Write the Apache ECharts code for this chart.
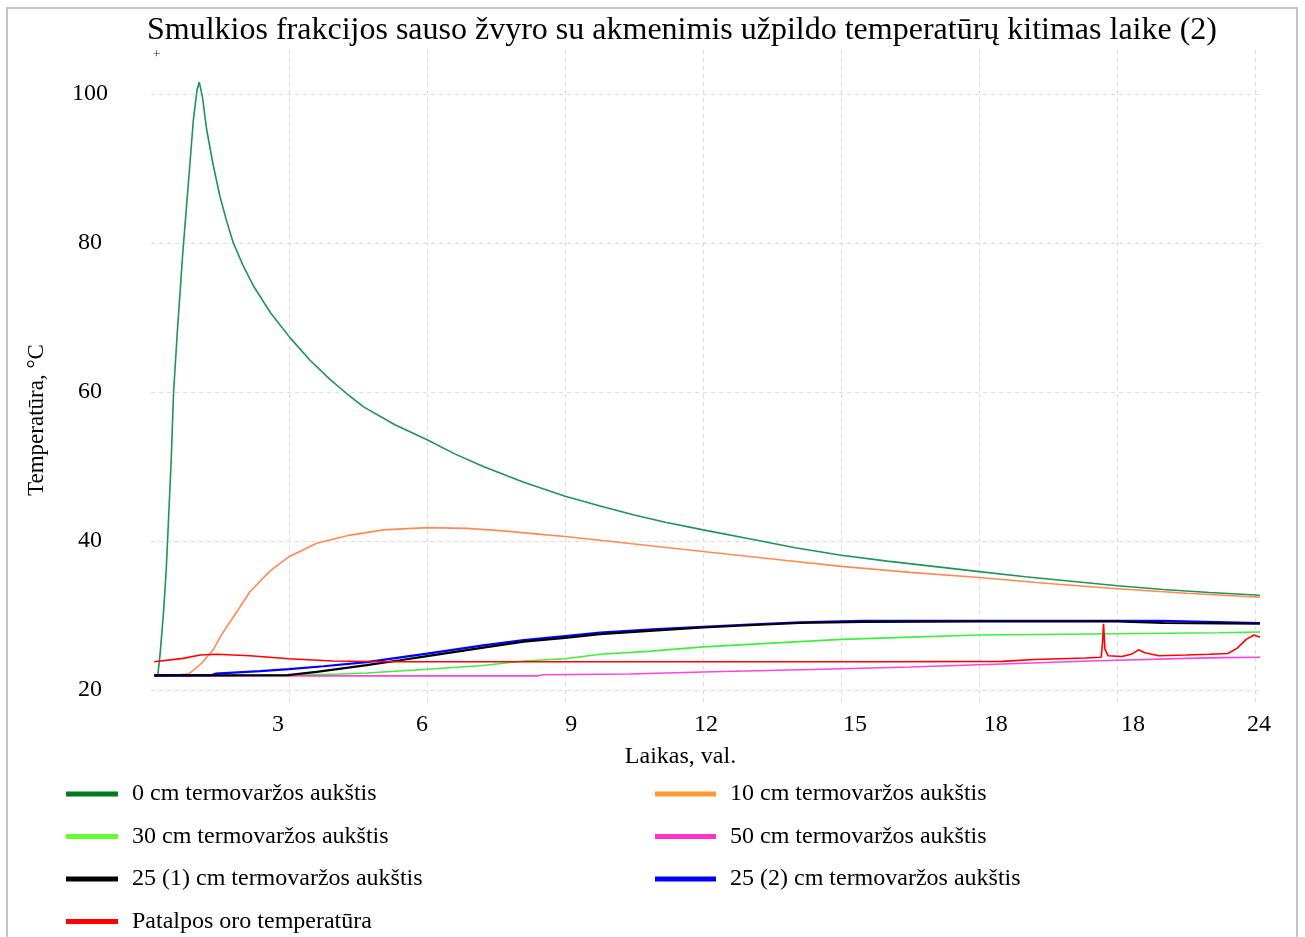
<!DOCTYPE html>
<html>
<head>
<meta charset="utf-8">
<script src="https://cdn.jsdelivr.net/npm/echarts@6/dist/echarts.min.js"></script>
<style>
html,body{margin:0;padding:0;background:#fff;}
#chart{width:1305px;height:937px;}
</style>
</head>
<body>
<div id="chart"></div>
<script>
// ---- data (time in hours, temperature in °C) ----
var seriesNames = [
  '0 cm termovaržos aukštis',
  '10 cm termovaržos aukštis',
  '30 cm termovaržos aukštis',
  '50 cm termovaržos aukštis',
  '25 (1) cm termovaržos aukštis',
  '25 (2) cm termovaržos aukštis',
  'Patalpos oro temperatūra'
];
var xGridValues = [3, 6, 9, 12, 15, 18, 21, 24];
// tick labels as printed in the original, and where (in hours) each one sits
var xTickLabels = ['3', '6', '9', '12', '15', '18', '18', '24'];
var xTickLabelAt = [2.76, 5.89, 9.13, 12.06, 15.3, 18.36, 21.34, 24.08];
var yTickValues = [20, 40, 60, 80, 100];

var t0cm = [[0.07,22.0],[0.15,22.1],[0.2,25],[0.27,30.3],[0.33,36],[0.38,42.8],[0.44,51],[0.49,59.9],[0.57,67.9],[0.69,78.6],[0.83,89.4],[0.92,96.5],[1.0,100.5],[1.05,101.6],[1.12,99.5],[1.21,95.2],[1.35,90.5],[1.5,86.2],[1.65,82.8],[1.79,80.0],[2.0,77.0],[2.22,74.3],[2.6,70.6],[3.02,67.3],[3.45,64.3],[3.89,61.7],[4.25,59.8],[4.62,58.0],[5.3,55.6],[6.0,53.6],[6.6,51.7],[7.22,50.0],[8.1,47.9],[9.0,46.0],[9.76,44.7],[10.5,43.5],[11.2,42.5],[12.0,41.5],[13.0,40.3],[14.0,39.1],[15.0,38.1],[16.0,37.3],[17.0,36.6],[18.0,35.9],[19.0,35.2],[20.0,34.6],[21.0,34.0],[22.0,33.5],[23.0,33.1],[24.0,32.75],[24.1,32.7]];
var t10cm = [[0.07,22.0],[0.5,22.0],[0.83,22.2],[1.1,23.6],[1.35,25.4],[1.55,27.6],[1.79,29.8],[2.15,33.2],[2.59,36.0],[3.0,37.9],[3.6,39.7],[4.33,40.8],[5.05,41.5],[6.0,41.8],[6.86,41.7],[7.59,41.4],[8.3,41.0],[9.0,40.6],[9.76,40.1],[10.5,39.6],[12.0,38.6],[13.5,37.6],[15.0,36.6],[16.5,35.8],[18.0,35.1],[19.5,34.3],[21.0,33.6],[22.5,33.0],[24.0,32.5],[24.1,32.45]];
var t30cm = [[0.07,22.0],[3.0,22.0],[4.1,22.15],[4.69,22.3],[6.0,22.8],[7.22,23.3],[8.1,23.9],[9.0,24.2],[9.76,24.8],[10.8,25.2],[12.0,25.8],[13.5,26.3],[15.0,26.8],[16.5,27.1],[18.0,27.4],[19.86,27.5],[21.5,27.6],[23.2,27.7],[24.1,27.8]];
var t50cm = [[0.07,21.9],[8.4,21.9],[8.5,22.05],[10.4,22.15],[12.2,22.45],[14.6,22.8],[16.5,23.1],[18.5,23.5],[20.4,23.9],[22.5,24.25],[23.3,24.35],[24.1,24.4]];
var t25a = [[0.07,21.95],[2.97,22.0],[3.6,22.45],[4.69,23.35],[5.41,24.0],[6.0,24.55],[7.22,25.7],[8.1,26.5],[9.0,27.0],[9.76,27.5],[11.0,28.0],[12.0,28.4],[13.0,28.7],[14.1,29.0],[15.45,29.15],[18.0,29.2],[21.0,29.2],[22.0,29.0],[23.3,28.95],[24.1,28.9]];
var t25b = [[0.07,22.0],[1.3,22.0],[1.4,22.2],[2.37,22.55],[3.0,22.8],[3.75,23.2],[4.69,23.75],[6.0,24.9],[7.22,26.0],[8.1,26.7],[9.0,27.25],[9.76,27.7],[11.0,28.2],[12.0,28.5],[13.0,28.8],[14.1,29.1],[15.45,29.3],[18.0,29.3],[20.0,29.3],[21.97,29.3],[22.0,29.05],[24.1,29.0]];
var tRoom = [[0.07,23.8],[0.7,24.25],[1.07,24.7],[1.43,24.8],[2.15,24.6],[3.0,24.2],[3.96,23.9],[5.05,23.8],[8.0,23.8],[12.0,23.8],[16.0,23.8],[18.5,23.85],[19.2,24.1],[20.3,24.3],[20.65,24.4],[20.68,26.5],[20.7,28.9],[20.73,25.5],[20.8,24.6],[21.1,24.5],[21.3,24.8],[21.46,25.4],[21.6,25.0],[21.9,24.6],[22.5,24.7],[23.0,24.8],[23.4,24.9],[23.6,25.6],[23.8,26.8],[23.97,27.4],[24.1,27.1]];

var seriesData = [t0cm, t10cm, t30cm, t50cm, t25a, t25b, tRoom];
var lineColors = ['#1f9455', '#ff8a55', '#3cf03c', '#ff44dd', '#000000', '#0000ff', '#ff0000'];
var legendColors = ['#007a1a', '#ff9933', '#66ff33', '#ff33cc', '#000000', '#0000ff', '#ff0000'];
var lineWidths = [1.6, 1.6, 1.6, 1.6, 2.2, 2.2, 1.6];
var drawOrder = [0, 1, 2, 3, 5, 4, 6];

var FONT = 'Liberation Serif';

function legendItems(idxs) {
  return idxs.map(function (i) {
    return { name: seriesNames[i], icon: 'rect', itemStyle: { color: legendColors[i], borderWidth: 0 } };
  });
}

function xLabelFor(v) {
  var best = -1, bestD = 1e9;
  for (var i = 0; i < xTickLabelAt.length; i++) {
    var d = Math.abs(xTickLabelAt[i] - v);
    if (d < bestD) { bestD = d; best = i; }
  }
  return bestD < 0.05 ? xTickLabels[best] : '';
}

var chart = echarts.init(document.getElementById('chart'), null, { renderer: 'canvas' });

var legendText = { fontFamily: FONT, fontSize: 24, color: '#000', lineHeight: 24, padding: [0, 0, 0, 9] };

var option = {
  backgroundColor: '#ffffff',
  animation: false,
  title: {
    text: 'Smulkios frakcijos sauso žvyro su akmenimis užpildo temperatūrų kitimas laike (2)',
    left: 147,
    top: 15,
    padding: 0,
    textStyle: { fontFamily: FONT, fontSize: 32, fontWeight: 'normal', color: '#000' }
  },
  graphic: [
    { type: 'rect', shape: { x: 7, y: 8, width: 1290, height: 940 }, style: { fill: 'none', stroke: '#c4c4c4', lineWidth: 2 }, silent: true },
    { type: 'text', left: 153, top: 48, style: { text: '+', fontSize: 13, fill: '#222', fontFamily: FONT }, silent: true }
  ],
  legend: [
    {
      orient: 'vertical', left: 66, top: 782, height: 200, padding: 0,
      itemWidth: 52, itemHeight: 5, itemGap: 18.5,
      selectedMode: false,
      data: legendItems([0, 2, 4, 6]),
      textStyle: legendText
    },
    {
      orient: 'vertical', left: 655, top: 782, height: 200, padding: 0,
      itemWidth: 61, itemHeight: 5, itemGap: 18.5,
      selectedMode: false,
      data: legendItems([1, 3, 5]),
      textStyle: legendText
    }
  ],
  grid: { left: 151, right: 45, top: 50, bottom: 235, containLabel: false },
  xAxis: {
    type: 'value',
    min: 0, max: 24.1,
    name: 'Laikas, val.',
    nameLocation: 'middle',
    nameGap: 43,
    nameTextStyle: { fontFamily: FONT, fontSize: 24, color: '#000', padding: [0, 50, 0, 0] },
    axisLine: { show: false },
    axisTick: { show: false, customValues: xGridValues },
    axisLabel: {
      customValues: xTickLabelAt,
      margin: 11,
      fontFamily: FONT, fontSize: 24, color: '#000',
      formatter: xLabelFor
    },
    splitLine: { show: true, lineStyle: { color: '#dcdcdc', type: [4, 4], width: 1 } }
  },
  yAxis: {
    type: 'value',
    min: 18.4, max: 105.9,
    name: 'Temperatūra, °C',
    nameLocation: 'middle',
    nameGap: 103,
    nameRotate: 90,
    nameTextStyle: { fontFamily: FONT, fontSize: 23, color: '#000', padding: [0, 88, 0, 0] },
    axisLine: { show: false },
    axisTick: { show: false, customValues: yTickValues },
    axisLabel: {
      customValues: yTickValues,
      margin: 61, align: 'center',
      fontFamily: FONT, fontSize: 24, color: '#000'
    },
    splitLine: { show: true, lineStyle: { color: '#dcdcdc', type: [4, 4], width: 1 } }
  },
  series: drawOrder.map(function (i) {
    return {
      name: seriesNames[i],
      type: 'line',
      data: seriesData[i],
      showSymbol: false,
      symbol: 'none',
      smooth: false,
      color: lineColors[i],
      lineStyle: { color: lineColors[i], width: lineWidths[i] },
      emphasis: { disabled: true },
      z: 2 + drawOrder.indexOf(i)
    };
  })
};

chart.setOption(option);
</script>
</body>
</html>
